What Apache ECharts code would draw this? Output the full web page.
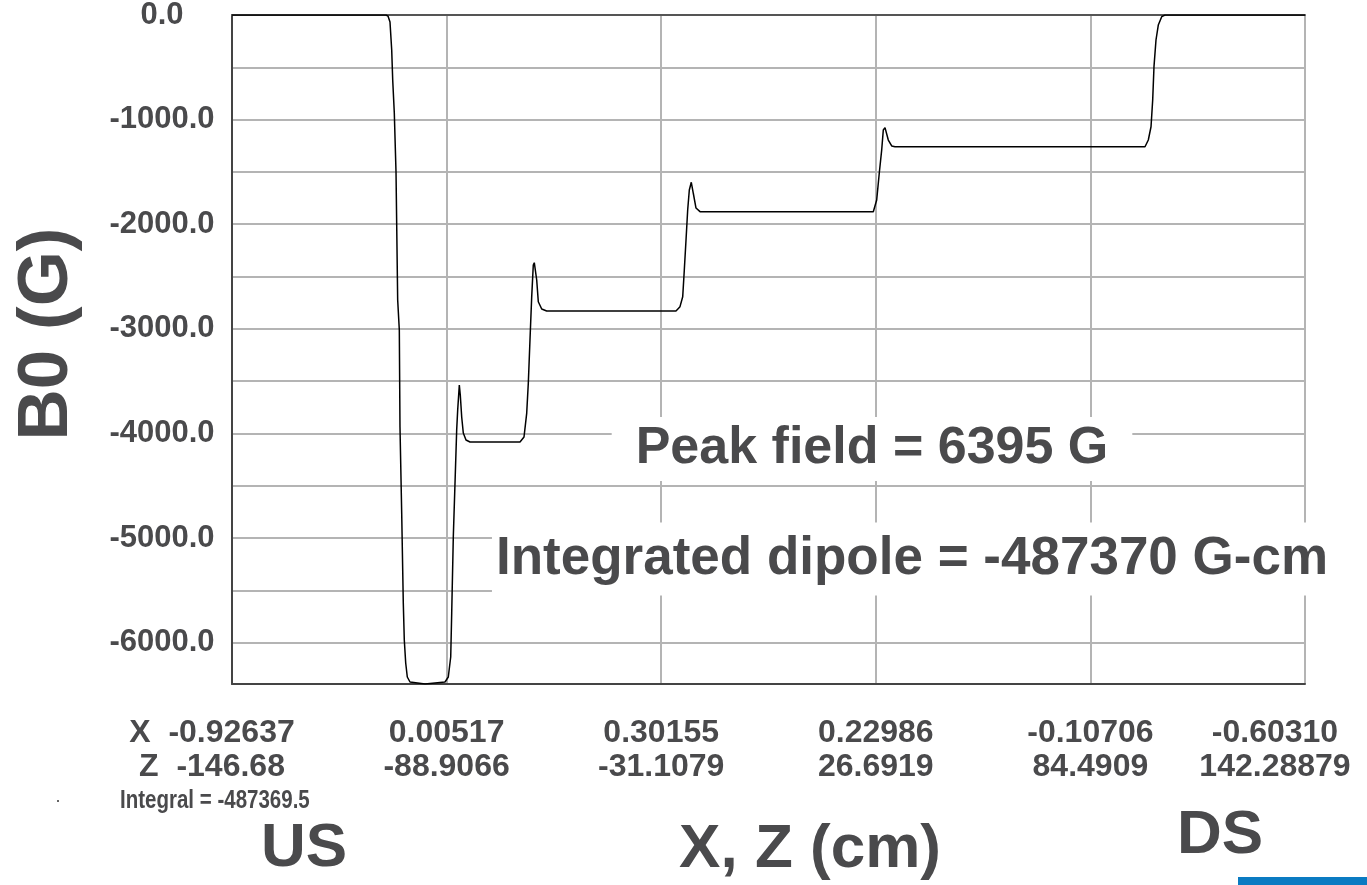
<!DOCTYPE html>
<html>
<head>
<meta charset="utf-8">
<script src="https://cdn.jsdelivr.net/npm/echarts@6/dist/echarts.min.js"></script>
<style>
    html, body { margin: 0; padding: 0; background: #fff; }
    #chart { width: 1367px; height: 885px; }
</style>
</head>
<body>
<div id="chart"></div>
<script>
// Z position (cm) and B0 field (G)
const zValues = [
    -146.68, -105.21, -104.67, -104.13, -103.67, -103.40, -102.97, -102.51, -102.06, -101.62,
    -101.44, -100.98, -100.55, -100.28, -99.90, -99.47, -98.74, -94.70, -89.32, -88.43,
    -87.78, -87.51, -87.08, -86.62, -86.17, -85.90, -85.46, -85.20, -84.82, -84.39,
    -83.66, -82.58, -69.12, -68.04, -67.31, -66.88, -66.43, -65.97, -65.54, -65.27,
    -64.62, -64.19, -63.27, -61.93, -27.11, -26.03, -25.30, -24.87, -24.41, -23.96,
    -23.52, -22.99, -22.45, -21.72, -20.64, 26.03, 26.94, 27.64, 28.29, 28.72,
    29.18, 30.07, 30.98, 31.87, 99.20, 100.09, 100.82, 101.27, 101.62, 102.16,
    102.78, 103.70, 104.59, 142.28879
]
const bValues = [
    0, 0, -10, -67, -335, -621, -937, -1501, -2724, -3011,
    -3938, -4760, -5621, -5974, -6194, -6328, -6376, -6395, -6376, -6328,
    -6137, -5716, -4990, -4474, -3967, -3776, -3537, -3632, -3843, -3996,
    -4063, -4082, -4082, -4034, -3805, -3518, -3107, -2696, -2390, -2368,
    -2533, -2741, -2810, -2829, -2829, -2788, -2693, -2438, -2151, -1864,
    -1673, -1599, -1704, -1845, -1880, -1880, -1768, -1510, -1290, -1099,
    -1077, -1195, -1252, -1259, -1259, -1195, -1068, -813, -494, -239,
    -96, -16, 0, 0
]

const xTickX = ['-0.92637', '0.00517', '0.30155', '0.22986', '-0.10706', '-0.60310']
const xTickZ = ['-146.68', '-88.9066', '-31.1079', '26.6919', '84.4909', '142.28879']
const yTickLabels = ['0.0', '-1000.0', '-2000.0', '-3000.0', '-4000.0', '-5000.0', '-6000.0']

const zMin = -146.68
const zMax = 142.28879
const bPeak = 6395
const integral = '-487369.5'
const integratedDipole = '-487370'

const textColor = '#4a4a4c'
const font = '"Liberation Sans", Arial, sans-serif'

let seriesData = zValues.map((z, i) => [z, bValues[i]])

let myChart = echarts.init(document.getElementById('chart'))
let option = {
    animation: false,
    backgroundColor: '#fff',
    grid: { left: 232, right: 62, top: 15, bottom: 201, outerBoundsMode: 'none' },
    xAxis: [
        {
            // data axis (Z in cm)
            type: 'value', min: zMin, max: zMax, show: false
        },
        {
            // labelled X / Z axis
            type: 'value', min: 0, max: 5, interval: 1, position: 'bottom',
            axisLine: { show: true, onZero: false, lineStyle: { color: '#444', width: 2 } },
            axisTick: { show: false },
            splitLine: { show: true, lineStyle: { color: '#b4b4b4', width: 2 } },
            axisLabel: {
                margin: 32,
                color: textColor,
                fontFamily: font,
                fontWeight: 'bold',
                fontSize: 32,
                lineHeight: 34,
                align: 'center',
                formatter: function (value) {
                    let i = Math.round(value)
                    if (i === 0) return '{first|X  ' + xTickX[0] + '\nZ  ' + xTickZ[0] + '}'
                    if (i === 5) return '{last|' + xTickX[5] + '\n' + xTickZ[5] + '}'
                    return xTickX[i] + '\n' + xTickZ[i]
                },
                rich: {
                    first: { fontFamily: font, fontWeight: 'bold', fontSize: 32, lineHeight: 34, color: textColor, padding: [0, 40, 0, 0] },
                    last: { fontFamily: font, fontWeight: 'bold', fontSize: 32, lineHeight: 34, color: textColor, padding: [0, 60, 0, 0] }
                }
            }
        },
        {
            // top border of the plot
            type: 'value', min: 0, max: 1, position: 'top',
            axisLine: { show: true, onZero: false, lineStyle: { color: '#555', width: 2 } },
            axisTick: { show: false }, axisLabel: { show: false }, splitLine: { show: false }
        }
    ],
    yAxis: [
        {
            // data axis (B0 in G)
            type: 'value', min: -bPeak, max: 0, show: false
        },
        {
            // labelled axis, same span, counted down from 0
            type: 'value', inverse: true, min: 0, max: bPeak, interval: 500, position: 'left',
            axisLine: { show: true, onZero: false, lineStyle: { color: '#444', width: 2 } },
            axisTick: { show: false },
            splitLine: { show: true, lineStyle: { color: '#b4b4b4', width: 2 } },
            axisLabel: {
                margin: 70,
                align: 'center',
                color: textColor,
                fontFamily: font,
                fontWeight: 'bold',
                fontSize: 31,
                formatter: function (value) {
                    if (value % 1000 !== 0) return ''
                    return yTickLabels[value / 1000]
                }
            }
        }
    ],
    series: [
        {
            name: 'B0',
            type: 'line',
            xAxisIndex: 0,
            yAxisIndex: 0,
            data: seriesData,
            showSymbol: false,
            z: 5,
            lineStyle: { color: '#000', width: 1.5 }
        }
    ],
    graphic: [
        {
            type: 'text', x: 47, y: 334, rotation: Math.PI / 2, z: 100,
            style: { text: 'B0 (G)', fill: textColor, fontFamily: font, fontWeight: 'bold', fontSize: 71, align: 'center', verticalAlign: 'middle' }
        },
        {
            type: 'text', x: 872, y: 449, z: 100,
            style: {
                text: 'Peak field = ' + bPeak + ' G', fill: textColor, fontFamily: font, fontWeight: 'bold', fontSize: 52,
                align: 'center', verticalAlign: 'middle', backgroundColor: '#fff', padding: [6, 24, 6, 24]
            }
        },
        {
            type: 'text', x: 912, y: 559, z: 100,
            style: {
                text: 'Integrated dipole = ' + integratedDipole + ' G-cm', fill: textColor, fontFamily: font, fontWeight: 'bold', fontSize: 53,
                align: 'center', verticalAlign: 'middle', backgroundColor: '#fff', padding: [10, 4, 10, 4]
            }
        },
        {
            // narrow-looking caption under the first tick
            type: 'text', x: 120, y: 801, z: 100, scaleX: 0.82,
            style: { text: 'Integral = ' + integral, fill: textColor, fontFamily: font, fontWeight: 'bold', fontSize: 25, align: 'left', verticalAlign: 'middle' }
        },
        {
            type: 'text', x: 304, y: 849, z: 100,
            style: { text: 'US', fill: textColor, fontFamily: font, fontWeight: 'bold', fontSize: 62, align: 'center', verticalAlign: 'middle' }
        },
        {
            type: 'text', x: 810, y: 850, z: 100,
            style: { text: 'X, Z (cm)', fill: textColor, fontFamily: font, fontWeight: 'bold', fontSize: 62, align: 'center', verticalAlign: 'middle' }
        },
        {
            type: 'text', x: 1220, y: 836, z: 100,
            style: { text: 'DS', fill: textColor, fontFamily: font, fontWeight: 'bold', fontSize: 62, align: 'center', verticalAlign: 'middle' }
        },
        {
            type: 'rect', z: 100,
            shape: { x: 57, y: 800, width: 2, height: 2 },
            style: { fill: '#666' }
        },
        {
            type: 'rect', z: 100,
            shape: { x: 1238, y: 877, width: 129, height: 8 },
            style: { fill: '#0a7bc2' }
        }
    ]
}

option && myChart.setOption(option)
</script>
</body>
</html>
